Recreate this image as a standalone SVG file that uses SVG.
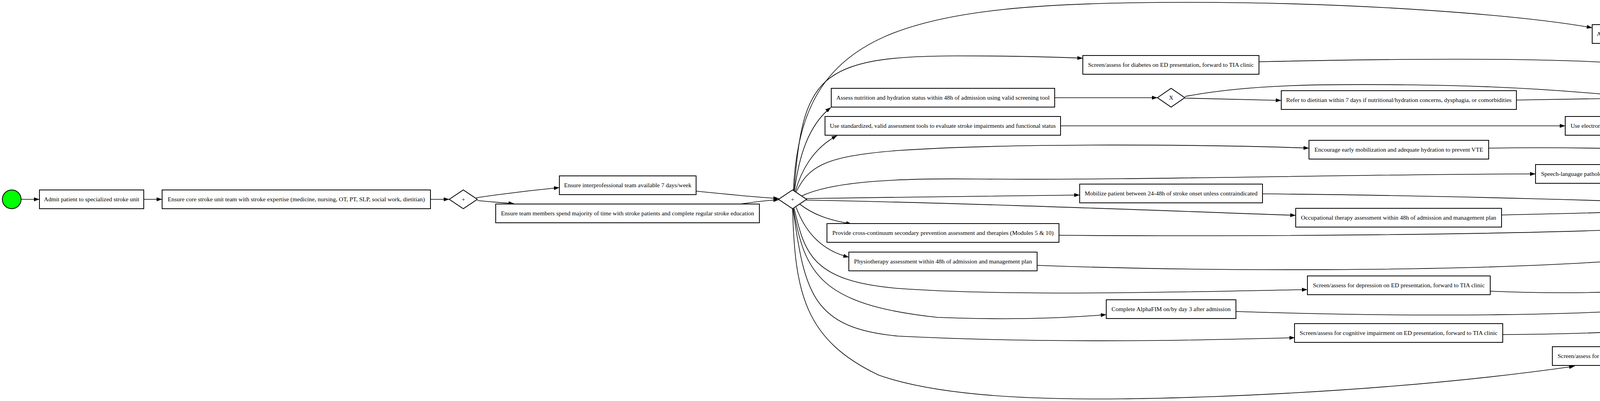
<svg xmlns="http://www.w3.org/2000/svg" width="4719" height="1026" viewBox="0 0 4719 1026">
<style>
.n rect{fill:#fff;stroke:#000;stroke-width:2}
.n polygon{fill:#fff;stroke:#000;stroke-width:2}
.n circle{stroke:#000;stroke-width:2}
.n text{font-family:"Liberation Serif","Times New Roman",serif;font-size:15.5px;text-anchor:middle;fill:#000}
.e path{fill:none;stroke:#000;stroke-width:1.6;marker-end:url(#ah)}
</style>
<defs>
<marker id="ah" markerUnits="userSpaceOnUse" markerWidth="14" markerHeight="10" viewBox="0 0 14 10" refX="14" refY="5" orient="auto">
<path d="M0,0 L14,5 L0,10 z" fill="#000"/>
</marker>
</defs>
<rect width="4719" height="1026" fill="#fff"/>
<g class="e" id="connectors">
<path d="M54,510 L101,510"/>
<path d="M368,510 L415,510"/>
<path d="M1102,510 L1150,510"/>
<path d="M1219,506 C1280,497 1370,486 1432,480"/>
<path d="M1222,513 C1250,516 1290,519 1316,521"/>
<path d="M1782,489 C1860,497 1940,505 1994,508"/>
<path d="M1895,522 C1930,517 1960,513 1994,511"/>
<path d="M2031,487 C2050,80 2300,6 3036,6 C3500,6 3900,40 4076,71"/>
<path d="M2033,487 C2055,200 2090,143 2450,143 C2600,143 2700,146 2772,149"/>
<path d="M2034,488 C2045,400 2070,320 2127,275"/>
<path d="M2036,490 C2050,440 2080,380 2143,347"/>
<path d="M2038,491 C2070,430 2100,400 2300,385 C2600,365 3100,370 3351,379"/>
<path d="M2053,501 C2120,470 2250,455 2500,458 C2900,462 3500,445 3931,445"/>
<path d="M2064,508 C2300,505 2600,500 2764,499"/>
<path d="M2064,512 C2500,520 3000,540 3317,551"/>
<path d="M2047,522 C2080,548 2120,563 2180,573"/>
<path d="M2038,530 C2060,590 2100,640 2173,658"/>
<path d="M2033,533 C2060,650 2080,720 2300,738 C2600,760 3100,745 3347,741"/>
<path d="M2031,534 C2060,700 2100,780 2400,812 C2600,820 2750,812 2832,805"/>
<path d="M2030,534 C2060,750 2080,840 2300,860 C2700,880 3100,870 3315,864"/>
<path d="M2029,534 C2035,750 2060,870 2250,960 C2450,1030 2800,1025 3100,1015 C3500,1000 3800,970 4031,937"/>
<path d="M2700,250 L2963,250"/>
<path d="M3033,251 L3280,257"/>
<path d="M3033,247 C3200,215 3400,215 3600,217 C3850,219 4050,235 4179,248"/>
<path d="M3882,256 L4179,251"/>
<path d="M2715,322 L4007,322"/>
<path d="M4351,77 C4460,100 4520,200 4545,330 C4560,400 4572,460 4578,504"/>
<path d="M3223,158 C3700,148 4300,140 4480,210 C4545,250 4565,420 4579,504"/>
<path d="M4249,243 C4300,232 4400,240 4460,290 C4530,350 4565,440 4577,504"/>
<path d="M4421,329 C4480,350 4540,420 4574,504"/>
<path d="M3811,379 C4100,375 4420,385 4490,405 C4530,425 4555,460 4568,504"/>
<path d="M4430,469 C4490,485 4530,505 4559,519"/>
<path d="M3232,496 C3700,500 4200,515 4547,529"/>
<path d="M3844,550 C4100,545 4400,535 4547,532"/>
<path d="M2711,602 C3200,606 3900,600 4200,585 C4400,575 4500,560 4554,542"/>
<path d="M2655,679 C3100,695 3700,695 4100,670 C4350,650 4480,610 4565,548"/>
<path d="M3815,745 C4050,755 4300,745 4400,722 C4490,700 4545,640 4573,557"/>
<path d="M3164,797 C3500,808 4200,820 4480,760 C4560,720 4570,620 4578,557"/>
<path d="M3847,856 C4100,855 4450,840 4500,800 C4550,750 4570,650 4580,557"/>
<path d="M4453,893 C4530,820 4565,700 4582,557"/>
<path d="M4618,532 L4666,532"/>
</g>
<g class="n" id="start"><circle cx="30" cy="510" r="24" fill="#00ff00"/></g>
<g class="n" id="admit"><rect x="101" y="486" width="267" height="48"/><text x="234.5" y="515">Admit patient to specialized stroke unit</text></g>
<g class="n" id="coreteam"><rect x="415" y="486" width="687" height="48"/><text x="758.5" y="515">Ensure core stroke unit team with stroke expertise (medicine, nursing, OT, PT, SLP, social work, dietitian)</text></g>
<g class="n" id="gw1"><polygon points="1150,510 1186,486 1222,510 1186,534"/><text x="1186" y="515">+</text></g>
<g class="n" id="interprof"><rect x="1432" y="450" width="350" height="48"/><text x="1607" y="479">Ensure interprofessional team available 7 days/week</text></g>
<g class="n" id="teamtime"><rect x="1269" y="522" width="675" height="48"/><text x="1606.5" y="551">Ensure team members spend majority of time with stroke patients and complete regular stroke education</text></g>
<g class="n" id="gw2"><polygon points="1993,510 2029,486 2065,510 2029,534"/><text x="2029" y="515">+</text></g>
<g class="n" id="vte"><rect x="4076" y="63" width="275" height="48"/><text x="4213.5" y="92">Assess risk of venous thromboembolism</text></g>
<g class="n" id="diabetes"><rect x="2772" y="142" width="451" height="48"/><text x="2997.5" y="171">Screen/assess for diabetes on ED presentation, forward to TIA clinic</text></g>
<g class="n" id="nutrition"><rect x="2128" y="226" width="572" height="48"/><text x="2414" y="255">Assess nutrition and hydration status within 48h of admission using valid screening tool</text></g>
<g class="n" id="xor1"><polygon points="2963,250 2998,226 3033,250 2998,274"/><text x="2998" y="255">X</text></g>
<g class="n" id="dietitian"><rect x="3280" y="232" width="602" height="48"/><text x="3581" y="261">Refer to dietitian within 7 days if nutritional/hydration concerns, dysphagia, or comorbidities</text></g>
<g class="n" id="xor2"><polygon points="4179,250 4214,226 4249,250 4214,274"/><text x="4214" y="255">X</text></g>
<g class="n" id="standardized"><rect x="2112" y="298" width="603" height="48"/><text x="2413.5" y="327">Use standardized, valid assessment tools to evaluate stroke impairments and functional status</text></g>
<g class="n" id="electronic"><rect x="4007" y="298" width="413" height="48"/><text x="4213.5" y="327">Use electronic assessment tools linked to EHR where possible</text></g>
<g class="n" id="encourage"><rect x="3351" y="359" width="460" height="48"/><text x="3581" y="388">Encourage early mobilization and adequate hydration to prevent VTE</text></g>
<g class="n" id="speech"><rect x="3931" y="421" width="567" height="48"/><text x="4214.5" y="450">Speech-language pathology assessment within 48h of admission and management plan</text></g>
<g class="n" id="mobilize"><rect x="2764" y="471" width="468" height="48"/><text x="2998" y="500">Mobilize patient between 24-48h of stroke onset unless contraindicated</text></g>
<g class="n" id="occupational"><rect x="3317" y="533" width="527" height="48"/><text x="3580.5" y="562">Occupational therapy assessment within 48h of admission and management plan</text></g>
<g class="n" id="provide"><rect x="2117" y="572" width="594" height="48"/><text x="2414" y="601">Provide cross-continuum secondary prevention assessment and therapies (Modules 5 &amp; 10)</text></g>
<g class="n" id="physio"><rect x="2173" y="645" width="482" height="48"/><text x="2414" y="674">Physiotherapy assessment within 48h of admission and management plan</text></g>
<g class="n" id="depression"><rect x="3347" y="706" width="468" height="48"/><text x="3581" y="735">Screen/assess for depression on ED presentation, forward to TIA clinic</text></g>
<g class="n" id="alphafim"><rect x="2832" y="767" width="332" height="48"/><text x="2998" y="796">Complete AlphaFIM on/by day 3 after admission</text></g>
<g class="n" id="cognitive"><rect x="3314" y="828" width="533" height="48"/><text x="3580.5" y="857">Screen/assess for cognitive impairment on ED presentation, forward to TIA clinic</text></g>
<g class="n" id="dental"><rect x="3974" y="887" width="479" height="48"/><text x="4213.5" y="916">Screen/assess for dental issues on ED presentation, forward to TIA clinic</text></g>
<g class="n" id="gw3"><polygon points="4545,532 4581,508 4617,532 4581,556"/><text x="4581" y="537">+</text></g>
<g class="n" id="end"><circle cx="4690" cy="532" r="24" fill="#ffa500"/></g>
</svg>
